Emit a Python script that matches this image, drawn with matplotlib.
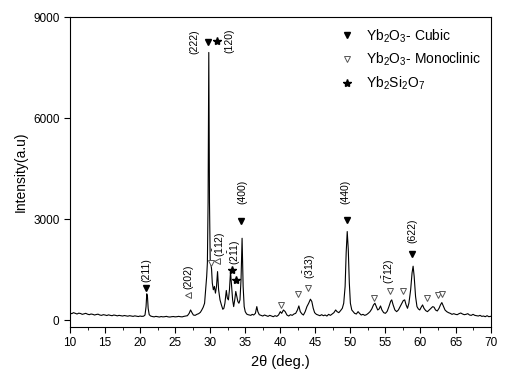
import matplotlib.pyplot as plt
from matplotlib.lines import Line2D
from matplotlib.ticker import MultipleLocator

plt.rcParams['font.family'] = ['Liberation Sans', 'DejaVu Sans']
plt.rcParams['mathtext.fontset'] = 'custom'
plt.rcParams['mathtext.rm'] = 'Liberation Sans'
plt.rcParams['mathtext.it'] = 'Liberation Sans'

# XRD pattern (2theta in deg, intensity in a.u.)
two_theta = [
    10.0, 10.25, 10.5, 10.75, 11.0, 11.25, 11.5, 11.75, 12.0, 12.25, 12.5, 12.75,
    13.0, 13.25, 13.5, 13.75, 14.0, 14.25, 14.5, 14.75, 15.0, 15.25, 15.5, 15.75,
    16.0, 16.25, 16.5, 16.75, 17.0, 17.25, 17.5, 17.75, 18.0, 18.25, 18.5, 18.75,
    19.0, 19.25, 19.5, 19.75, 20.0, 20.25,
    20.5, 20.7, 20.85, 20.95, 21.05, 21.15, 21.3, 21.5,
    21.75, 22.0, 22.25, 22.5, 22.75, 23.0, 23.25, 23.5, 23.75, 24.0, 24.25, 24.5,
    24.75, 25.0, 25.25, 25.5, 25.75, 26.0, 26.25, 26.5, 26.75,
    27.0, 27.2, 27.4, 27.6, 27.85, 28.1, 28.35, 28.6, 28.8, 29.0, 29.2, 29.35,
    29.5, 29.6, 29.7, 29.8, 29.9, 30.0, 30.1, 30.2, 30.3, 30.45, 30.6, 30.75,
    30.9, 31.05, 31.2, 31.4, 31.6, 31.8, 31.95, 32.1, 32.3, 32.45, 32.6, 32.75,
    32.9, 33.05, 33.2, 33.35, 33.5, 33.65, 33.8, 33.95, 34.1, 34.25, 34.4, 34.55,
    34.7, 34.85, 35.0, 35.2, 35.4, 35.6, 35.8, 36.0, 36.2, 36.45, 36.65, 36.8,
    37.0, 37.25, 37.5, 37.75, 38.0, 38.25, 38.5, 38.75, 39.0, 39.25, 39.5, 39.75,
    40.0, 40.2, 40.45, 40.7, 40.95, 41.2, 41.45, 41.7, 41.95, 42.2, 42.45, 42.65,
    42.85, 43.1, 43.3, 43.55, 43.8, 44.05, 44.3, 44.5, 44.7, 44.9, 45.15, 45.4,
    45.65, 45.9, 46.15, 46.4, 46.65, 46.9, 47.15, 47.4, 47.65, 47.9, 48.1, 48.35,
    48.6, 48.85, 49.05, 49.25, 49.4, 49.55, 49.7, 49.85, 50.0, 50.2, 50.4, 50.6,
    50.85, 51.1, 51.3, 51.55, 51.8, 52.05, 52.3, 52.55, 52.8, 53.05, 53.3, 53.5,
    53.7, 53.9, 54.1, 54.3, 54.5, 54.75, 55.0, 55.25, 55.5, 55.75, 55.9, 56.1,
    56.35, 56.6, 56.85, 57.1, 57.35, 57.55, 57.75, 57.95, 58.15, 58.35, 58.6, 58.8,
    58.95, 59.1, 59.3, 59.5, 59.7, 59.9, 60.1, 60.3, 60.5, 60.75, 61.0, 61.25,
    61.5, 61.75, 61.95, 62.15, 62.4, 62.65, 62.85, 63.05, 63.25, 63.5, 63.75, 64.0,
    64.25, 64.5, 64.75, 65.0, 65.25, 65.5, 65.75, 66.0, 66.25, 66.5, 66.75, 67.0,
    67.25, 67.5, 67.75, 68.0, 68.25, 68.5, 68.75, 69.0, 69.25, 69.5, 69.75, 70.0,
]
intensity = [
    210, 190, 220, 200, 180, 205, 195, 170, 185, 200, 175, 160,
    180, 170, 150, 165, 175, 150, 140, 160, 150, 135, 155, 140,
    130, 150, 140, 125, 140, 130, 120, 135, 125, 115, 130, 120,
    110, 125, 115, 105, 120, 110,
    115, 150, 400, 780, 700, 350, 160, 120,
    105, 95, 110, 100, 90, 105, 95, 100, 110, 95, 90, 100,
    105, 95, 100, 110, 100, 95, 110, 120, 130,
    200, 300, 220, 150, 140, 170, 190, 230, 300, 380, 500, 900,
    1300, 1700, 3500, 7950, 3500, 1800, 1700, 1500, 1100, 900, 1000, 800,
    1000, 1440, 900, 600, 450, 320, 350, 500, 880, 650, 600, 900,
    1440, 1000, 600, 400, 600, 850, 700, 550, 500, 600, 1200, 2430,
    1000, 400, 250, 180, 160, 150, 140, 170, 150, 200, 400, 250,
    160, 140, 120, 150, 130, 110, 140, 120, 100, 130, 110, 150,
    250, 200, 300, 250, 150, 120, 160, 140, 180, 200, 300, 420,
    250, 180, 150, 250, 400, 500, 620, 550, 350, 220, 170, 150,
    130, 160, 130, 150, 120, 170, 140, 180, 220, 300, 250, 220,
    280, 350, 500, 1000, 2000, 2630, 2100, 1100, 500, 300, 250, 200,
    180, 250, 200, 150, 170, 140, 160, 200, 250, 330, 450, 500,
    400, 300, 330, 420, 300, 220, 200, 260, 400, 560, 600, 450,
    300, 250, 300, 400, 500, 580, 600, 450, 350, 500, 900, 1400,
    1600, 1300, 700, 400, 330, 300, 380, 450, 350, 280, 250, 300,
    350, 400, 380, 300, 270, 350, 450, 520, 420, 300, 250, 220,
    200, 170, 190, 170, 160, 190, 210, 180, 160, 170, 190, 150,
    140, 170, 140, 130, 120, 140, 110, 120, 100, 130, 100, 110,
]

# phase markers
cubic_x = [20.9, 29.65, 34.35, 49.47, 58.74]
cubic_y = [950, 8250, 2950, 2975, 1960]
mono_x = [30.1, 40.05, 42.48, 43.95, 53.4, 55.7, 57.55, 61.0, 62.55, 63.1]
mono_y = [1690, 450, 760, 960, 665, 860, 860, 665, 740, 780]
mono_left_x = [26.88, 31.0]
mono_left_y = [740, 1760]
star_x = [31.0, 33.06, 33.63]
star_y = [8280, 1490, 1190]

# rotated hkl labels
hkl_text = ['(211)', '(202)', '(222)', '(120)', r'$(\bar{1}12)$', r'$(2\bar{1}1)$',
            '(400)', r'$(\bar{3}13)$', '(440)', r'$(\bar{7}12)$', '(622)']
hkl_x = [20.95, 26.88, 27.75, 32.7, 31.4, 33.55, 34.58, 44.2, 49.33, 55.55, 58.83]
hkl_y = [1490, 1300, 8270, 8300, 2260, 2020, 3800, 1600, 3820, 1460, 2650]

fig, ax = plt.subplots(figsize=(5.11, 3.80), dpi=100)
fig.subplots_adjust(left=0.137, right=0.960, bottom=0.140, top=0.955)

ax.plot(two_theta, intensity, color='black', lw=0.8)

ax.plot(cubic_x, cubic_y, 'v', color='black', ms=5, ls='none')
ax.plot(mono_x, mono_y, 'v', mfc='white', mec='#555555', mew=0.7, ms=5, ls='none')
ax.plot(mono_left_x, mono_left_y, '<', mfc='white', mec='#555555', mew=0.7, ms=5, ls='none')
ax.plot(star_x, star_y, '*', color='black', ms=6, ls='none')

for t, x, y in zip(hkl_text, hkl_x, hkl_y):
    ax.text(x, y, t, rotation=90, ha='center', va='center', fontsize=7.5)

handles = [
    Line2D([], [], marker='v', color='black', ls='none', ms=5),
    Line2D([], [], marker='v', mfc='white', mec='#555555', mew=0.7, ls='none', ms=5),
    Line2D([], [], marker='*', color='black', ls='none', ms=6),
]
labels = ['Yb$_2$O$_3$- Cubic', 'Yb$_2$O$_3$- Monoclinic', 'Yb$_2$Si$_2$O$_7$']
ax.legend(handles, labels, loc='upper left', bbox_to_anchor=(0.63, 0.985),
          frameon=False, fontsize=10, handlelength=1.0, handletextpad=0.8,
          labelspacing=0.45, borderaxespad=0)

ax.set_xlim(10, 70)
ax.set_ylim(-200, 9000)
ax.xaxis.set_major_locator(MultipleLocator(5))
ax.xaxis.set_minor_locator(MultipleLocator(2.5))
ax.set_yticks([0, 3000, 6000, 9000])
ax.tick_params(direction='out', labelsize=8.5, length=4)
ax.tick_params(which='minor', direction='out', length=2.5)
ax.set_xlabel('2θ (deg.)', fontsize=10.5)
ax.set_ylabel('Intensity(a.u)', fontsize=10)

fig.savefig('out.png', dpi=100)
